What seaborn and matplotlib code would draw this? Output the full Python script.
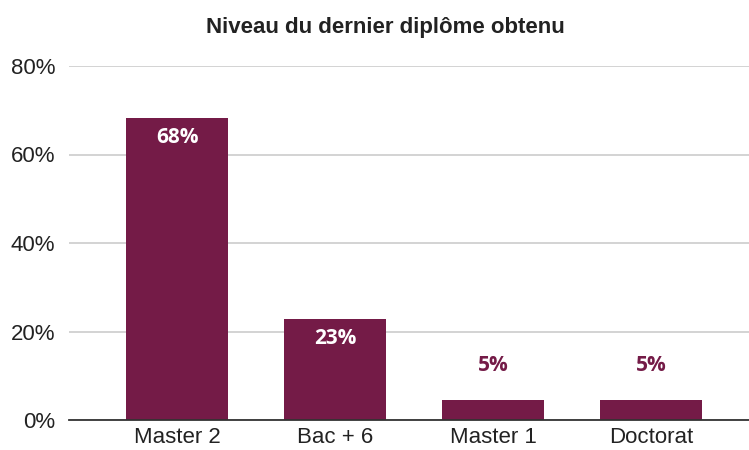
import numpy as np
import pandas as pd
import seaborn as sns
import matplotlib.pyplot as plt

# Niveau du dernier diplôme obtenu (share of respondents, %)
categories = ["Master 2", "Bac + 6", "Master 1", "Doctorat"]
shares = [68.18, 22.73, 4.55, 4.55]
y_ticks = [0, 20, 40, 60, 80]

bar_color = "#741b47"
text_color = "#222222"

sns.set_theme(style="white")
plt.rcParams["font.family"] = ["Liberation Sans", "DejaVu Sans"]

df = pd.DataFrame({"diplome": categories, "part": shares})

fig = plt.figure(figsize=(7.49, 4.5), dpi=100)
ax = fig.add_axes([69 / 749, 30 / 450, 680 / 749, 354 / 450])

sns.barplot(data=df, x="diplome", y="part", color=bar_color, width=0.646,
            saturation=1, linewidth=0, ax=ax, zorder=3)

ax.set_xlim(-0.684, 3.62)
ax.set_ylim(0, 80)
ax.set_yticks(y_ticks)
ax.set_yticklabels([f"{t}%" for t in y_ticks])
ax.yaxis.grid(True, color="#cccccc", linewidth=1.2, zorder=0)
ax.set_xlabel("")
ax.set_ylabel("")
ax.tick_params(axis="both", length=0, labelsize=16, colors=text_color)
ax.tick_params(axis="y", pad=10)
ax.tick_params(axis="x", pad=5)
for side in ["top", "right", "left"]:
    ax.spines[side].set_visible(False)
ax.spines["bottom"].set_color("#333333")
ax.spines["bottom"].set_linewidth(1.3)
ax.spines["bottom"].set_zorder(4)

# value labels: inside the bar when tall enough, above it otherwise
for i, v in enumerate(shares):
    label = f"{v:.0f}%"
    if v > 15:
        ax.annotate(label, (i, v), xytext=(0, -14), textcoords="offset points",
                    ha="center", va="center", color="white", fontsize=15,
                    fontweight="bold", family=["Open Sans", "DejaVu Sans"], zorder=5)
    else:
        ax.annotate(label, (i, v), xytext=(0, 25), textcoords="offset points",
                    ha="center", va="center", color=bar_color, fontsize=15,
                    fontweight="bold", family=["Open Sans", "DejaVu Sans"], zorder=5)

fig.text(0.514, 0.94, "Niveau du dernier diplôme obtenu", ha="center", va="center",
         fontsize=16, fontweight="bold", color=text_color)

fig.savefig("out.png", dpi=100, facecolor="white")
